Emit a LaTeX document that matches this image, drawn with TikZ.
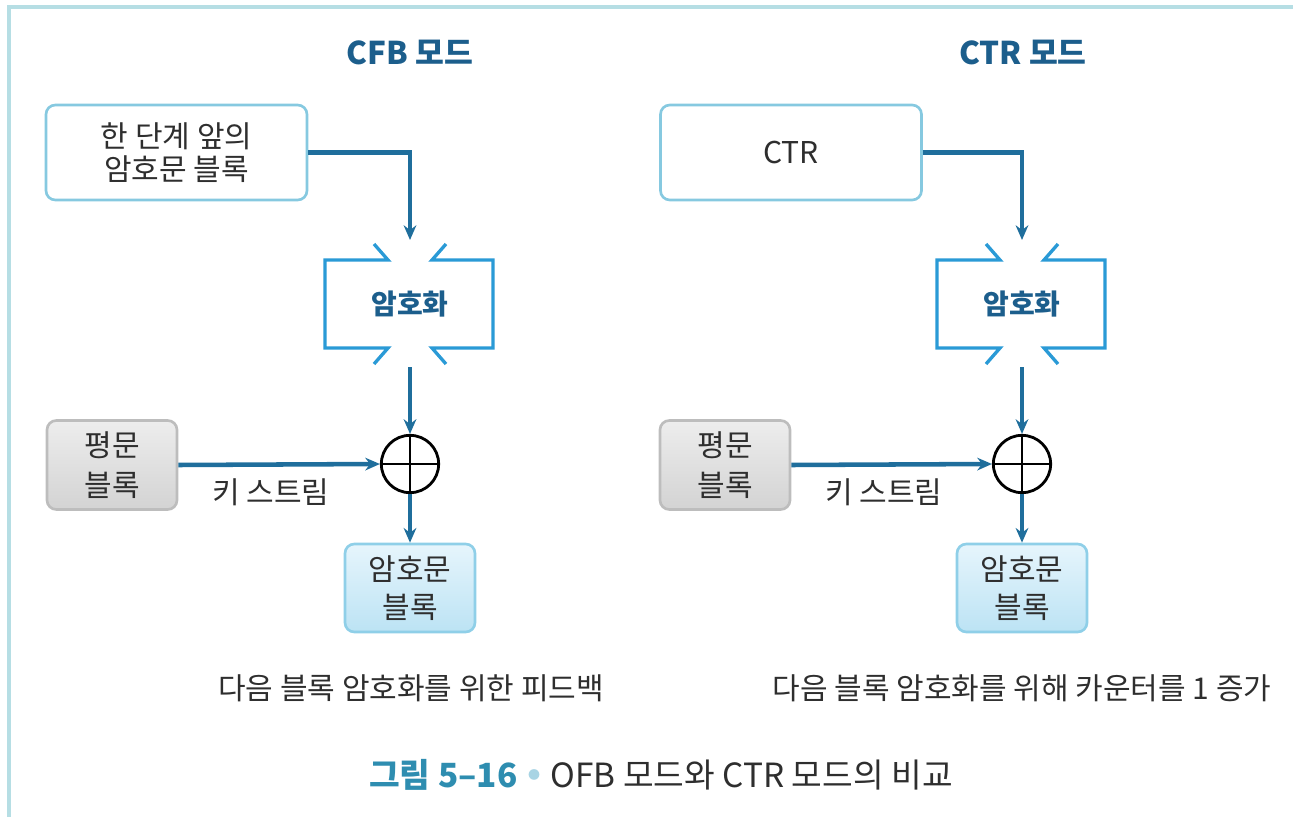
\documentclass[tikz,border=0pt]{standalone}
\usepackage{fontspec}
\setmainfont{Noto Sans CJK KR}
\usetikzlibrary{arrows.meta}
\definecolor{arrowblue}{HTML}{1F6E9C}
\definecolor{bracketblue}{HTML}{2A9AD6}
\definecolor{titleblue}{HTML}{1C5E8C}
\definecolor{boxline}{HTML}{86C9E0}
\definecolor{framec}{HTML}{B6DEE4}
\definecolor{txt}{HTML}{2E2E2E}
\definecolor{graytop}{HTML}{EDEDED}
\definecolor{graybot}{HTML}{D3D3D3}
\definecolor{grayline}{HTML}{BDBDBD}
\definecolor{ctop}{HTML}{E6F5FC}
\definecolor{cbot}{HTML}{BCE3F4}
\definecolor{cline}{HTML}{8FCFE8}
\definecolor{captc}{HTML}{2E8DB0}
\definecolor{dotc}{HTML}{A8D4E4}
\begin{document}
\begin{tikzpicture}[x=0.75pt,y=-0.75pt,
  every node/.style={text=txt, inner sep=0pt},
  conn/.style={draw=arrowblue, line width=3.4pt, -{Stealth[length=11pt,width=9.5pt]}},
  bracket/.style={draw=bracketblue, line width=2.5pt, line join=miter},
  titlef/.style={text=titleblue, font={\fontsize{23.5pt}{28pt}\selectfont\bfseries}},
  encf/.style={text=titleblue, font={\fontsize{21pt}{25pt}\selectfont\bfseries}},
  bodyf/.style={font={\fontsize{22.5pt}{25pt}\selectfont}},
  inbox/.style={bodyf, draw=boxline, line width=2pt, fill=white, rounded corners=7pt,
    minimum width=195.75pt, minimum height=71.25pt, align=center},
  plainbox/.style={draw=grayline, line width=2pt, rounded corners=7pt, top color=graytop, bottom color=graybot,
    minimum width=97.5pt, minimum height=66.75pt, align=center, font={\fontsize{22.5pt}{30pt}\selectfont}},
  cipherbox/.style={draw=cline, line width=2pt, rounded corners=7pt, top color=ctop, bottom color=cbot,
    minimum width=97.5pt, minimum height=66pt, align=center, font={\fontsize{22.5pt}{28pt}\selectfont}},
  xor/.style={circle, draw=black, line width=2.1pt, minimum size=43pt},
  lbl/.style={bodyf},
]
\useasboundingbox (0,0) rectangle (1293,817);
\draw[framec, line width=2.6pt] (9,817) -- (9,7) -- (1293,7);

% ---------------- CFB ----------------
\node[titlef] (t1) at (410,53) {CFB 모드};
\node[inbox] (prev1) at (176.5,152.5) {한 단계 앞의\\암호문 블록};
\node[encf] (enc1) at (410,304) {암호화};
\begin{scope}[shift={(enc1.center)}]
  \draw[bracket] (-36,-60) -- (-22,-44) -- (-85,-44) -- (-85,44) -- (-22,44) -- (-36,60);
  \draw[bracket] (36,-60) -- (22,-44) -- (83,-44) -- (83,44) -- (22,44) -- (36,60);
\end{scope}
\coordinate (enc1in) at (410,240);
\coordinate (enc1out) at (410,367);
\node[xor] (x1) at (410,464) {};
\draw[black, line width=2.1pt] (x1.north) -- (x1.south) (x1.west) -- (x1.east);
\node[plainbox] (p1) at (112,465) {평문\\블록};
\node[cipherbox] (c1) at (410,588) {암호문\\블록};
\node[lbl] (k1) at (271,492) {키 스트림};
\node[lbl] (f1) at (411,688) {다음 블록 암호화를 위한 피드백};
\draw[conn] (prev1.east) -| (enc1in);
\draw[conn] (enc1out) -- (x1.north);
\draw[conn] (p1.east) -- (x1.west);
\draw[conn] (x1.south) -- (c1.north);

% ---------------- CTR ----------------
\node[titlef] (t2) at (1023,53) {CTR 모드};
\node[inbox] (prev2) at (791,152.5) {CTR};
\node[encf] (enc2) at (1022,304) {암호화};
\begin{scope}[shift={(enc2.center)}]
  \draw[bracket] (-36,-60) -- (-22,-44) -- (-85,-44) -- (-85,44) -- (-22,44) -- (-36,60);
  \draw[bracket] (36,-60) -- (22,-44) -- (83,-44) -- (83,44) -- (22,44) -- (36,60);
\end{scope}
\coordinate (enc2in) at (1022,240);
\coordinate (enc2out) at (1022,367);
\node[xor] (x2) at (1022,464) {};
\draw[black, line width=2.1pt] (x2.north) -- (x2.south) (x2.west) -- (x2.east);
\node[plainbox] (p2) at (725,465) {평문\\블록};
\node[cipherbox] (c2) at (1022,588) {암호문\\블록};
\node[lbl] (k2) at (884,492) {키 스트림};
\node[lbl] (f2) at (1022,688) {다음 블록 암호화를 위해 카운터를 1 증가};
\draw[conn] (prev2.east) -| (enc2in);
\draw[conn] (enc2out) -- (x2.north);
\draw[conn] (p2.east) -- (x2.west);
\draw[conn] (x2.south) -- (c2.north);

% ---------------- caption ----------------
\node[font={\fontsize{25pt}{30pt}\selectfont}] (cap) at (661,775)
  {{\color{captc}\bfseries 그림 5–16}\hspace{8pt}\raisebox{6pt}{\color{dotc}\fontsize{9pt}{9pt}\selectfont●}\hspace{8pt}OFB 모드와 CTR 모드의 비교};
\end{tikzpicture}
\end{document}
